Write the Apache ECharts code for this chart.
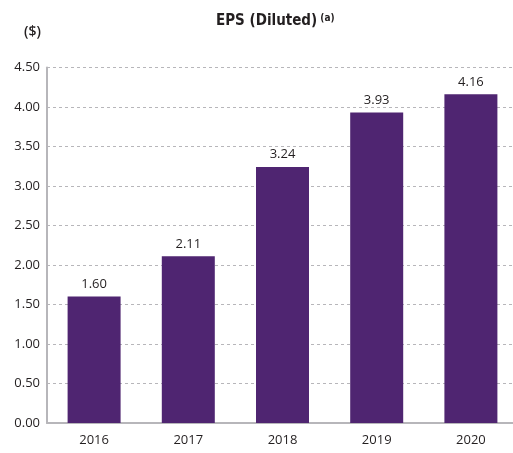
<!DOCTYPE html>
<html><head><meta charset="utf-8">
<script src="https://cdn.jsdelivr.net/npm/echarts@6/dist/echarts.min.js"></script>
<style>html,body{margin:0;padding:0;background:#fff;overflow:hidden}#c{width:520px;height:453px}</style>
</head><body><div id="c"></div>
<script>
const categories = ['2016','2017','2018','2019','2020'];
const values = [1.60, 2.11, 3.24, 3.93, 4.16];
const yTicks = [0, 0.5, 1, 1.5, 2, 2.5, 3, 3.5, 4, 4.5];

const chart = echarts.init(document.getElementById('c'));
chart.setOption({
  animation: false,
  title: {
    text: '{m|EPS (Diluted)}{s| (a)}',
    left: 211, top: 8,
    textStyle: {
      rich: {
        m: {fontFamily: "'DejaVu Sans Condensed','Liberation Sans Narrow',sans-serif", fontWeight: 'bold', fontSize: 15, color: '#231f20', verticalAlign: 'bottom'},
        s: {fontFamily: "'DejaVu Sans Condensed','Liberation Sans Narrow',sans-serif", fontWeight: 'bold', fontSize: 10, color: '#231f20', padding: [0,0,6,0]}
      }
    }
  },
  grid: {left: 47, top: 67.5, width: 471, height: 355.5, containLabel: false},
  xAxis: {
    type: 'category', data: categories,
    axisLine: {lineStyle: {color: '#b7b6ba', width: 2}},
    axisTick: {show: false},
    axisLabel: {color: '#231f20', fontSize: 13, fontFamily: "'Open Sans','DejaVu Sans',sans-serif", margin: 11}
  },
  yAxis: {
    type: 'value', min: 0, max: 4.5, interval: 0.5,
    name: '($)', nameLocation: 'end', nameGap: 0,
    nameTextStyle: {color: '#231f20', fontSize: 14, fontWeight: 600, fontFamily: "'Open Sans','DejaVu Sans',sans-serif", align: 'right', padding: [0, 6, 28, 0]},
    axisLine: {show: true, lineStyle: {color: '#b7b6ba', width: 2}},
    axisTick: {show: false},
    axisLabel: {color: '#231f20', fontSize: 13, fontFamily: "'Open Sans','DejaVu Sans',sans-serif", margin: 7,
      formatter: v => v.toFixed(2)},
    splitLine: {show: true, lineStyle: {color: '#b7b6ba', type: [3, 3], width: 1}}
  },
  series: [{
    type: 'bar', data: values, barWidth: 53,
    itemStyle: {color: '#4f2571'},
    label: {show: true, position: 'top', distance: 6, color: '#231f20', fontSize: 13,
      fontFamily: "'Open Sans','DejaVu Sans',sans-serif", formatter: p => p.value.toFixed(2)}
  }]
});
</script></body></html>
